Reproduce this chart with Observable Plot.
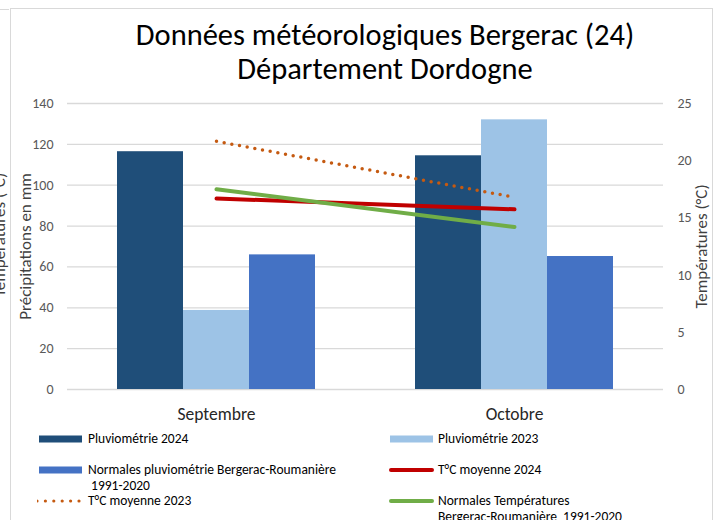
<!DOCTYPE html>
<html>
<head>
<meta charset="utf-8">
<script src="https://cdn.jsdelivr.net/npm/d3@7"></script>
<script src="https://cdn.jsdelivr.net/npm/@observablehq/plot@0.6"></script>
<style>
  html, body { margin: 0; padding: 0; background: #fff; }
  body { width: 718px; height: 520px; overflow: hidden; position: relative; font-family: Carlito, Calibri, Lato, "Open Sans", sans-serif; }
  .abs { position: absolute; white-space: nowrap; }
  .lg { position: absolute; font-size: 13.5px; color: #000; white-space: pre; line-height: 15.5px; }
  .sw { position: absolute; }
</style>
</head>
<body>
<script>
// ---- data ----
const months = ["Septembre", "Octobre"];
const pluvio2024 = [116.4, 114.4];
const pluvio2023 = [38.7, 132.0];
const normalesPluvio = [65.9, 65.1];
const tMoy2024 = [16.7, 15.75];
const tMoy2023 = [21.7, 16.8];
const normalesTemp = [17.5, 14.2];
const precipTicks = [0, 20, 40, 60, 80, 100, 120, 140];
const tempTicks = [0, 5, 10, 15, 20, 25];
const titleLines = ["Données météorologiques Bergerac (24)", "Département Dordogne"];
const yLabelLeft = "Précipitations en mm";
const yLabelRight = "Températures (°C)";
const legendItems = [
  "Pluviométrie 2024", "Pluviométrie 2023",
  "Normales pluviométrie Bergerac-Roumanière\n 1991-2020", "T°C moyenne 2024",
  "T°C moyenne 2023", "Normales Températures\nBergerac-Roumanière  1991-2020"
];

const FONT = 'Carlito, Calibri, Lato, "Open Sans", sans-serif';
const k = 140 / 25; // temperature -> precipitation scale factor
const C = {p24: "#1f4e79", p23: "#9dc3e6", np: "#4472c4", t24: "#c00000", t23: "#c55a11", nt: "#70ad47"};

// frame border
const frame = document.createElement("div");
frame.className = "abs";
Object.assign(frame.style, {left: "10px", top: "8px", width: "701px", height: "600px", border: "1px solid #d9d9d9"});
document.body.appendChild(frame);
const stub = document.createElement("div");
stub.className = "abs";
Object.assign(stub.style, {left: "0px", top: "9px", width: "9px", height: "0px", borderTop: "1px solid #d9d9d9"});
document.body.appendChild(stub);

// clipped neighbour label at left edge
const clip = document.createElement("div");
clip.className = "abs";
clip.textContent = yLabelRight;
Object.assign(clip.style, {left: "-1px", top: "235px", fontSize: "17px", color: "#404040", transform: "translate(-50%,-50%) rotate(-90deg)"});
document.body.appendChild(clip);

// title
const title = document.createElement("div");
title.className = "abs";
Object.assign(title.style, {left: "52px", top: "18px", width: "666px", textAlign: "center", fontSize: "30.5px", lineHeight: "34px", color: "#000"});
title.innerHTML = titleLines.join("<br>");
document.body.appendChild(title);

// chart
const rows = (arr) => months.map((m, i) => ({month: m, value: arr[i]}));
const width = 718, marginLeft = 67, marginRight = 55;
const pI = 100 / 298, pO = 50 / 298;
const step = (width - marginLeft - marginRight) / (months.length - pI + 2 * pO);
const third = step * (1 - pI) / 3;

const chart = Plot.plot({
  width, height: 340,
  marginTop: 16, marginBottom: 38, marginLeft, marginRight,
  style: {fontFamily: FONT, background: "transparent", overflow: "visible"},
  x: {domain: months, paddingInner: pI, paddingOuter: pO, round: false, label: null},
  y: {domain: [0, 140], label: null},
  marks: [
    Plot.gridY(precipTicks, {stroke: "#d9d9d9", strokeOpacity: 1, strokeWidth: 1.3}),
    Plot.barY(rows(pluvio2024), {x: "month", y: "value", fill: C.p24, insetLeft: 0, insetRight: 2 * third}),
    Plot.barY(rows(pluvio2023), {x: "month", y: "value", fill: C.p23, insetLeft: third, insetRight: third}),
    Plot.barY(rows(normalesPluvio), {x: "month", y: "value", fill: C.np, insetLeft: 2 * third, insetRight: 0}),
    Plot.line(rows(tMoy2024), {x: "month", y: d => d.value * k, stroke: C.t24, strokeWidth: 4}),
    Plot.line(rows(tMoy2023), {x: "month", y: d => d.value * k, stroke: C.t23, strokeWidth: 3.5, strokeDasharray: "0 7.8", strokeLinecap: "round"}),
    Plot.line(rows(normalesTemp), {x: "month", y: d => d.value * k, stroke: C.nt, strokeWidth: 4}),
    Plot.axisY(precipTicks, {tickSize: 0, tickPadding: 14, fontSize: 14, fill: "#595959", label: null}),
    Plot.axisY(tempTicks.map(t => t * k), {anchor: "right", tickSize: 0, tickPadding: 14, fontSize: 14, fill: "#595959", label: null, tickFormat: d => String(Math.round(d / k))}),
    Plot.axisX({tickSize: 0, tickPadding: 18, fontSize: 17.5, fill: "#262626", label: null}),
    Plot.text([yLabelLeft], {frameAnchor: "left", textAnchor: "middle", rotate: -90, dx: -41.5, text: d => d, fontSize: 17, fill: "#404040"}),
    Plot.text([yLabelRight], {frameAnchor: "right", textAnchor: "middle", rotate: -90, dx: 38.5, text: d => d, fontSize: 17, fill: "#404040"})
  ]
});
const holder = document.createElement("div");
holder.className = "abs";
Object.assign(holder.style, {left: "0px", top: "87px"});
holder.appendChild(chart);
document.body.appendChild(holder);

// legend
const swatches = [
  {type: "rect", color: C.p24}, {type: "rect", color: C.p23},
  {type: "rect", color: C.np}, {type: "line", color: C.t24},
  {type: "dots", color: C.t23}, {type: "line", color: C.nt}
];
const colX = [{sw: 39, tx: 88}, {sw: 390, tx: 438}];
const rowY = [439, 470, 501];
legendItems.forEach((label, i) => {
  const col = colX[i % 2], cy = rowY[Math.floor(i / 2)];
  const s = swatches[i];
  const ns = "http://www.w3.org/2000/svg";
  const svg = document.createElementNS(ns, "svg");
  svg.setAttribute("width", 46); svg.setAttribute("height", 10);
  svg.setAttribute("class", "sw");
  svg.style.left = (col.sw - 2) + "px"; svg.style.top = (cy - 5) + "px";
  if (s.type === "rect") {
    const r = document.createElementNS(ns, "rect");
    r.setAttribute("x", 2); r.setAttribute("y", 1.5); r.setAttribute("width", 43); r.setAttribute("height", 7);
    r.setAttribute("fill", s.color); svg.appendChild(r);
  } else {
    const l = document.createElementNS(ns, "line");
    l.setAttribute("x1", s.type === "dots" ? 0 : 3); l.setAttribute("x2", s.type === "dots" ? 42.5 : 44);
    l.setAttribute("y1", 5); l.setAttribute("y2", 5);
    l.setAttribute("stroke", s.color);
    l.setAttribute("stroke-width", s.type === "dots" ? 3.2 : 4);
    l.setAttribute("stroke-linecap", "round");
    if (s.type === "dots") l.setAttribute("stroke-dasharray", "0 8.4");
    svg.appendChild(l);
  }
  document.body.appendChild(svg);
  const t = document.createElement("div");
  t.className = "lg";
  t.textContent = label;
  t.style.left = col.tx + "px";
  t.style.top = (cy - 7.75) + "px";
  document.body.appendChild(t);
});
</script>
</body>
</html>
